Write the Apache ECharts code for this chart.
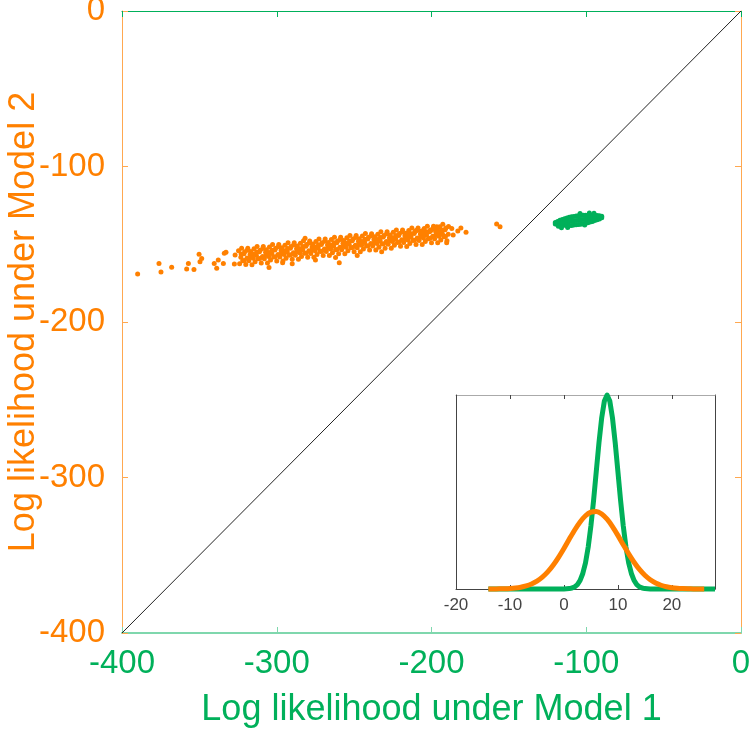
<!DOCTYPE html>
<html>
<head>
<meta charset="utf-8">
<script src="https://cdn.jsdelivr.net/npm/echarts@6/dist/echarts.min.js"></script>
<style>html,body{margin:0;padding:0;background:#fff}#c{width:751px;height:729px}</style>
</head>
<body>
<div id="c"></div>
<script>
// ---- data ----
const xTitle = 'Log likelihood under Model 1';
const yTitle = 'Log likelihood under Model 2';
const mainTicks = [-400, -300, -200, -100, 0];
const insetTicks = [-20, -10, 0, 10, 20];
const diagonal = [[-400, -400], [0, 0]];

// Model 2 preferred samples (orange)
const orangePoints = [
  [-389.9,-169.1],[-376.1,-162.3],[-374.8,-167.8],[-367.9,-164.8],[-358.2,-165.9],[-357.1,-162.3],
  [-353.5,-166.3],[-350.2,-156.5],[-349.6,-161.2],[-348.5,-159.1],[-340.4,-162.3],[-338.8,-165.5],
  [-337.8,-160.1],[-333.9,-155.8],[-332.8,-155.2],[-334.5,-162.3],[-327.4,-162.7],[-326.9,-156.9],
  [-296.2,-161.9],[-259.6,-161.9],[-232.2,-154.8],[-190.2,-149.0],[-281.7,-146.2],[-196.6,-138.7],
  [-186.9,-139.8],[-177.7,-142.3],[-157.9,-137.0],[-155.7,-138.7],
  [-305,-165.0],[-290,-162.6],[-275,-160.2],[-262,-158.6],[-248,-157.2],[-215,-143.0],[-210,-141.2],
  [-205,-140.6],[-200,-141.0],[-195,-139.2],[-193,-143.5],[-186,-144.0],[-183,-141.5],[-181,-139.6],
  [-324,-162.5],[-323.2,-158.3],[-324.7,-154.1],[-322,-160.6],[-321.2,-156.1],[-322.7,-152.6],
  [-320,-163.1],[-319.2,-158.9],[-320.7,-154.9],[-318,-160.6],[-317.2,-156.4],[-318.7,-152.6],
  [-316,-163.2],[-315.2,-159.0],[-316.7,-154.7],[-314,-161.3],[-313.2,-157.1],[-314.7,-152.9],
  [-312,-159.4],[-311.2,-154.9],[-312.7,-151.4],[-310,-162.0],[-309.2,-157.8],[-310.7,-153.8],
  [-308,-159.4],[-307.2,-155.2],[-308.7,-151.4],[-306,-162.0],[-305.2,-157.8],[-306.7,-153.5],
  [-304,-160.1],[-303.2,-155.9],[-304.7,-151.7],[-302,-158.2],[-301.2,-153.7],[-302.7,-150.2],
  [-300,-160.8],[-299.2,-156.6],[-300.7,-152.6],[-298,-158.2],[-297.2,-154.0],[-298.7,-150.2],
  [-296,-160.8],[-295.2,-156.6],[-296.7,-152.3],[-294,-159.0],[-293.2,-154.8],[-294.7,-150.6],
  [-292,-157.0],[-291.2,-152.5],[-292.7,-149.0],[-290,-159.6],[-289.2,-155.4],[-290.7,-151.4],
  [-288,-157.1],[-287.2,-152.9],[-288.7,-149.1],[-286,-159.6],[-285.2,-155.4],[-286.7,-151.1],
  [-284,-157.8],[-283.2,-153.6],[-284.7,-149.4],[-282,-155.8],[-281.2,-151.3],[-282.7,-147.8],
  [-280,-158.4],[-279.2,-154.2],[-280.7,-150.2],[-278,-155.9],[-277.2,-151.7],[-278.7,-147.9],
  [-276,-158.4],[-275.2,-154.2],[-276.7,-149.9],[-274,-156.6],[-273.2,-152.4],[-274.7,-148.2],
  [-272,-154.7],[-271.2,-150.2],[-272.7,-146.7],[-270,-157.2],[-269.2,-153.0],[-270.7,-149.0],
  [-268,-154.7],[-267.2,-150.5],[-268.7,-146.7],[-266,-157.3],[-265.2,-153.1],[-266.7,-148.8],
  [-264,-155.4],[-263.2,-151.2],[-264.7,-147.0],[-262,-153.5],[-261.2,-149.0],[-262.7,-145.5],
  [-260,-156.1],[-259.2,-151.9],[-260.7,-147.9],[-258,-153.5],[-257.2,-149.3],[-258.7,-145.5],
  [-256,-156.1],[-255.2,-151.9],[-256.7,-147.6],[-254,-154.2],[-253.2,-150.0],[-254.7,-145.8],
  [-252,-152.3],[-251.2,-147.8],[-252.7,-144.3],[-250,-154.9],[-249.2,-150.7],[-250.7,-146.7],
  [-248,-152.3],[-247.2,-148.1],[-248.7,-144.3],[-246,-154.9],[-245.2,-150.7],[-246.7,-146.4],
  [-244,-153.1],[-243.2,-148.9],[-244.7,-144.7],[-242,-151.1],[-241.2,-146.6],[-242.7,-143.1],
  [-240,-153.7],[-239.2,-149.5],[-240.7,-145.5],[-238,-151.2],[-237.2,-147.0],[-238.7,-143.2],
  [-236,-153.7],[-235.2,-149.5],[-236.7,-145.2],[-234,-151.9],[-233.2,-147.7],[-234.7,-143.5],
  [-232,-149.9],[-231.2,-145.4],[-232.7,-141.9],[-230,-152.5],[-229.2,-148.3],[-230.7,-144.3],
  [-228,-150.0],[-227.2,-145.8],[-228.7,-142.0],[-226,-152.5],[-225.2,-148.3],[-226.7,-144.0],
  [-224,-150.7],[-223.2,-146.5],[-224.7,-142.3],[-222,-148.8],[-221.2,-144.3],[-222.7,-140.8],
  [-220,-151.3],[-219.2,-147.1],[-220.7,-143.1],[-218,-148.8],[-217.2,-144.6],[-218.7,-140.8],
  [-216,-151.4],[-215.2,-147.2],[-216.7,-142.9],[-214,-149.5],[-213.2,-145.3],[-214.7,-141.1],
  [-212,-147.6],[-211.2,-143.1],[-212.7,-139.6],[-210,-150.2],[-209.2,-146.0],[-210.7,-142.0],
  [-208,-147.6],[-207.2,-143.4],[-208.7,-139.6],[-206,-150.2],[-205.2,-146.0],[-206.7,-141.7],
  [-204,-148.3],[-203.2,-144.1],[-204.7,-139.9],[-202,-146.4],[-201.2,-141.9],[-202.7,-138.4],
  [-200,-149.0],[-199.2,-144.8],[-200.7,-140.8],[-198,-146.4],[-197.2,-142.2],[-198.7,-138.4],
  [-196,-149.0],[-195.2,-144.8],[-196.7,-140.5],[-194,-147.2],[-193.2,-143.0],[-194.7,-138.8],
  [-192,-145.2],[-191.2,-140.7],[-192.7,-137.2],[-190,-147.8],[-189.2,-143.6],[-190.7,-139.6],
  [-323,-156.2],[-321,-160.4],[-319,-153.9],[-317,-158.4],[-315,-156.5],[-313,-155.0],[-311,-159.2],
  [-309,-152.8],[-307,-157.2],[-305,-155.3],[-303,-153.8],[-301,-158.0],[-299,-151.6],[-297,-156.0],
  [-295,-154.1],[-293,-152.7],[-291,-156.8],[-289,-150.4],[-287,-154.9],[-285,-152.9],[-283,-151.5],
  [-281,-155.6],[-279,-149.2],[-277,-153.7],[-275,-151.7],[-273,-150.3],[-271,-154.5],[-269,-148.0],
  [-267,-152.5],[-265,-150.6],[-263,-149.1],[-261,-153.3],[-259,-146.9],[-257,-151.3],[-255,-149.4],
  [-253,-147.9],[-251,-152.1],[-249,-145.7],[-247,-150.1],[-245,-148.2],[-243,-146.8],[-241,-150.9],
  [-239,-144.5],[-237,-149.0],[-235,-147.0],[-233,-145.6],[-231,-149.7],[-229,-143.3],[-227,-147.8],
  [-225,-145.8],[-223,-144.4],[-221,-148.6],[-219,-142.1],[-217,-146.6],[-215,-144.7],[-213,-143.2],
  [-211,-147.4],[-209,-141.0],[-207,-145.4],[-205,-143.5],[-203,-142.0],[-201,-146.2],[-199,-139.8],
  [-197,-144.2],[-195,-142.3],[-193,-140.9],[-191,-145.0],[-189,-138.6]
];

// Model 1 preferred samples (green)
const greenPoints = [
  [-120,-137.0],[-120,-136.0],
  [-118.5,-137.3],[-118.5,-136.3],[-118.5,-135.3],
  [-117,-137.6],[-117,-136.1],[-117,-134.6],
  [-115.5,-137.7],[-115.5,-135.9],[-115.5,-134.1],
  [-114,-137.8],[-114,-135.7],[-114,-133.6],
  [-112.5,-137.9],[-112.5,-135.5],[-112.5,-133.1],
  [-111,-137.9],[-111,-135.3],[-111,-132.7],
  [-109.5,-137.9],[-109.5,-135.1],[-109.5,-132.3],
  [-108,-137.7],[-108,-134.9],[-108,-132.1],
  [-106.5,-137.5],[-106.5,-134.7],[-106.5,-131.9],
  [-105,-137.3],[-105,-134.5],[-105,-131.7],
  [-103.5,-137.1],[-103.5,-134.3],[-103.5,-131.5],
  [-102,-136.8],[-102,-134.1],[-102,-131.4],
  [-100.5,-136.5],[-100.5,-133.9],[-100.5,-131.3],
  [-99,-136.1],[-99,-133.7],[-99,-131.3],
  [-97.5,-135.7],[-97.5,-133.5],[-97.5,-131.3],
  [-96,-135.3],[-96,-133.3],[-96,-131.3],
  [-94.5,-134.8],[-94.5,-133.1],[-94.5,-131.4],
  [-93,-134.3],[-93,-132.9],[-93,-131.5],
  [-91.5,-133.7],[-91.5,-132.7],[-91.5,-131.7],
  [-90,-133.0],[-90,-132.0],
  [-112,-139.2],[-104,-130.3],[-98,-129.9],[-95,-130.0],[-118,-138.5],[-101,-137.6],[-116,-139.4]
];

// Inset: distributions of the difference
const greenCurveX = [-14, 0, 1, 1.5, 2, 2.5, 3, 3.5, 4, 4.5, 5, 5.5, 6, 6.5, 7, 7.5, 8, 8.5, 9, 9.5, 10, 10.5, 11, 11.5, 12, 12.5, 13, 13.5, 14, 14.5, 15, 16, 28];
const greenCurveY = [0, 0, 0.002, 0.005, 0.011, 0.023, 0.044, 0.080, 0.135, 0.216, 0.325, 0.458, 0.607, 0.755, 0.882, 0.969, 1.0, 0.969, 0.882, 0.755, 0.607, 0.458, 0.325, 0.216, 0.135, 0.080, 0.044, 0.023, 0.011, 0.005, 0.002, 0, 0];
const orangeCurveX = [-14,-13,-12,-11,-10,-9,-8,-7,-6,-5,-4,-3,-2,-1,0,1,2,3,4,5,6,7,8,9,10,11,12,13,14,15,16,17,18,19,20,21,22,23,24,25,26];
const orangeCurveY = [0.0002,0.0004,0.0008,0.0015,0.0029,0.0053,0.0094,0.0159,0.0259,0.0405,0.0609,0.0880,0.1222,0.1630,0.2088,0.2572,0.3042,0.3457,0.3775,0.3961,0.3993,0.3867,0.3598,0.3217,0.2764,0.2281,0.1808,0.1378,0.1008,0.0709,0.0479,0.0311,0.0194,0.0116,0.0067,0.0037,0.0020,0.0010,0.0005,0.0002,0.0001];

// ---- styles ----
const ORANGE = '#FF8000';
const GREEN = '#00B05A';
const FONT = 'Liberation Sans, Arial, Helvetica, sans-serif';

const greenCurve = greenCurveX.map((x, i) => [x, greenCurveY[i]]);
const orangeCurve = orangeCurveX.map((x, i) => [x, orangeCurveY[i]]);

const chart = echarts.init(document.getElementById('c'), null, {renderer: 'canvas'});
chart.setOption({
  backgroundColor: '#ffffff',
  animation: false,
  grid: [
    {left: 122, top: 11, width: 619, height: 622, containLabel: false, outerBoundsMode: 'none'},
    {left: 456, top: 395, width: 259, height: 194, show: true, backgroundColor: '#ffffff', borderWidth: 0,
     containLabel: false, outerBoundsMode: 'none'}
  ],
  xAxis: [
    {gridIndex: 0, type: 'value', min: -400, max: 0, interval: 100, position: 'bottom',
     name: xTitle, nameLocation: 'middle', nameGap: 59, nameMoveOverlap: false,
     nameTextStyle: {color: GREEN, fontSize: 36, fontFamily: FONT},
     axisLine: {show: true, onZero: false, lineStyle: {color: '#7fd7ad', width: 2}},
     axisTick: {show: true, inside: true, length: 6, lineStyle: {color: '#7fd7ad', width: 1}},
     axisLabel: {color: GREEN, fontSize: 33, fontFamily: FONT, margin: 14},
     splitLine: {show: false}},
    {gridIndex: 0, type: 'value', min: -400, max: 0, interval: 100, position: 'top',
     axisLine: {show: true, onZero: false, lineStyle: {color: GREEN, width: 1}},
     axisTick: {show: true, inside: true, length: 6, lineStyle: {color: GREEN, width: 1}},
     axisLabel: {show: false}, splitLine: {show: false}},
    {gridIndex: 1, type: 'value', min: -20, max: 28, position: 'bottom',
     axisLine: {show: true, onZero: false, lineStyle: {color: '#444', width: 1}},
     axisTick: {show: true, inside: true, length: 4, customValues: insetTicks, lineStyle: {color: '#444'}},
     axisLabel: {color: '#444', fontSize: 17, fontFamily: FONT, margin: 8, customValues: insetTicks},
     splitLine: {show: false}},
    {gridIndex: 1, type: 'value', min: -20, max: 28, position: 'top',
     axisLine: {show: true, onZero: false, lineStyle: {color: '#aaa', width: 1}},
     axisTick: {show: true, inside: true, length: 4, customValues: insetTicks, lineStyle: {color: '#444'}},
     axisLabel: {show: false}, splitLine: {show: false}}
  ],
  yAxis: [
    {gridIndex: 0, type: 'value', min: -400, max: 0, interval: 100, position: 'left',
     name: yTitle, nameLocation: 'middle', nameGap: 80, nameRotate: 90, nameMoveOverlap: false,
     nameTextStyle: {color: ORANGE, fontSize: 36, fontFamily: FONT},
     axisLine: {show: true, onZero: false, lineStyle: {color: '#ffa850', width: 1}},
     axisTick: {show: true, inside: true, length: 6, lineStyle: {color: '#ffa850', width: 1}},
     axisLabel: {color: ORANGE, fontSize: 33, fontFamily: FONT, margin: 17},
     splitLine: {show: false}},
    {gridIndex: 0, type: 'value', min: -400, max: 0, interval: 100, position: 'right',
     axisLine: {show: true, onZero: false, lineStyle: {color: '#ffa850', width: 1}},
     axisTick: {show: true, inside: true, length: 6, lineStyle: {color: '#ffa850', width: 1}},
     axisLabel: {show: false}, splitLine: {show: false}},
    {gridIndex: 1, type: 'value', min: 0, max: 1, position: 'left',
     axisLine: {show: true, onZero: false, lineStyle: {color: '#444', width: 1}},
     axisTick: {show: false}, axisLabel: {show: false}, splitLine: {show: false}},
    {gridIndex: 1, type: 'value', min: 0, max: 1, position: 'right',
     axisLine: {show: true, onZero: false, lineStyle: {color: '#444', width: 1}},
     axisTick: {show: false}, axisLabel: {show: false}, splitLine: {show: false}}
  ],
  series: [
    {type: 'line', xAxisIndex: 0, yAxisIndex: 0, data: diagonal, symbol: 'none',
     lineStyle: {color: '#222', width: 1}, silent: true, z: 2},
    {type: 'scatter', xAxisIndex: 0, yAxisIndex: 0, data: orangePoints, symbol: 'circle', symbolSize: 5,
     itemStyle: {color: ORANGE, opacity: 1}, z: 3},
    {type: 'scatter', xAxisIndex: 0, yAxisIndex: 0, data: greenPoints, symbol: 'circle', symbolSize: 5,
     itemStyle: {color: GREEN, opacity: 1}, z: 3},
    {type: 'line', xAxisIndex: 2, yAxisIndex: 2, data: greenCurve, symbol: 'none', clip: false,
     lineStyle: {color: GREEN, width: 5, join: 'round'}, z: 5},
    {type: 'line', xAxisIndex: 2, yAxisIndex: 2, data: orangeCurve, symbol: 'none', smooth: 0.3, clip: false,
     lineStyle: {color: ORANGE, width: 5, join: 'round'}, z: 6}
  ]
});
</script>
</body>
</html>
